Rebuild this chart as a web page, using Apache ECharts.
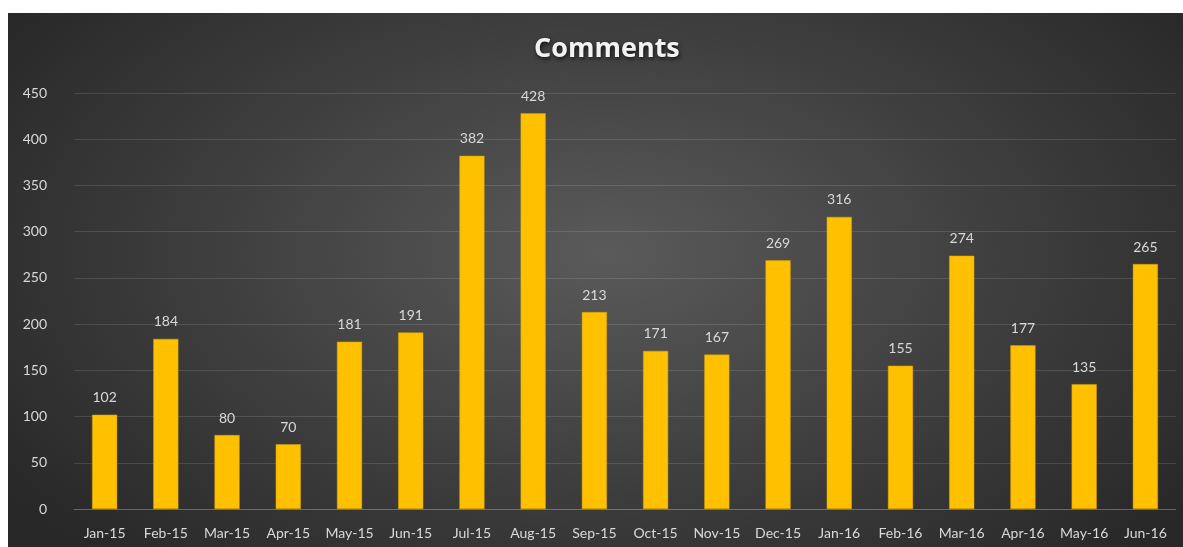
<!DOCTYPE html>
<html>
<head>
<meta charset="utf-8">
<script src="https://cdn.jsdelivr.net/npm/echarts@6/dist/echarts.min.js"></script>
<style>
  html, body { margin: 0; padding: 0; background: #fff; }
  #main {
    position: absolute; left: 8px; top: 13px; width: 1175px; height: 534px;
    background: radial-gradient(ellipse 62% 78% at 51% 45%, #5a5a5a 0%, #3e3e3e 55%, #282828 100%);
  }
</style>
</head>
<body>
<div id="main"></div>
<script>
const months = ['Jan-15', 'Feb-15', 'Mar-15', 'Apr-15', 'May-15', 'Jun-15', 'Jul-15', 'Aug-15', 'Sep-15',
  'Oct-15', 'Nov-15', 'Dec-15', 'Jan-16', 'Feb-16', 'Mar-16', 'Apr-16', 'May-16', 'Jun-16'];
const comments = [102, 184, 80, 70, 181, 191, 382, 428, 213, 171, 167, 269, 316, 155, 274, 177, 135, 265];
const yTicks = [0, 50, 100, 150, 200, 250, 300, 350, 400, 450];

const textColor = '#d9d9d9';
const font = 'Lato, "Open Sans", sans-serif';

const chart = echarts.init(document.getElementById('main'));
chart.setOption({
  backgroundColor: 'transparent',
  title: {
    text: 'Comments',
    left: 521,
    top: 18,
    textStyle: {
      color: '#f2f2f2', fontSize: 27, fontWeight: 'bold', fontFamily: '"Open Sans", sans-serif',
      textShadowColor: 'rgba(0,0,0,0.75)', textShadowBlur: 4, textShadowOffsetX: 1, textShadowOffsetY: 2
    }
  },
  grid: { left: 66, right: 7, top: 80, bottom: 38 },
  xAxis: {
    type: 'category',
    data: months,
    axisTick: { show: false },
    axisLine: { lineStyle: { color: 'rgba(255,255,255,0.18)' } },
    axisLabel: { color: textColor, fontSize: 14, fontFamily: font, margin: 17, interval: 0 }
  },
  yAxis: {
    type: 'value',
    min: yTicks[0],
    max: yTicks[yTicks.length - 1],
    interval: 50,
    axisLine: { show: false },
    axisTick: { show: false },
    splitLine: { lineStyle: { color: 'rgba(255,255,255,0.12)' } },
    axisLabel: { color: textColor, fontSize: 14, fontFamily: font, margin: 27 }
  },
  series: [{
    type: 'bar',
    data: comments,
    barWidth: '41%',
    itemStyle: { color: '#ffc000', borderColor: '#d9a300', borderWidth: 0.5 },
    label: {
      show: true, position: 'top', distance: 10,
      color: textColor, fontSize: 14, fontFamily: font
    }
  }]
});
</script>
</body>
</html>
